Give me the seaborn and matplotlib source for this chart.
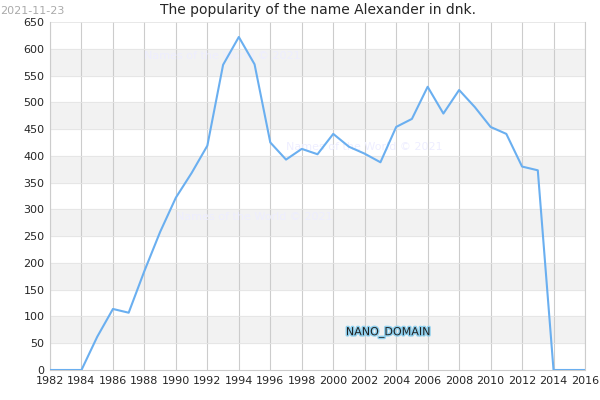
import numpy as np
import pandas as pd
import matplotlib
matplotlib.use('Agg')
import matplotlib.pyplot as plt
import matplotlib.patheffects as pe
import seaborn as sns

years = list(range(1982, 2017))
counts = [0, 0, 0, 62, 114, 107, 185, 258, 322, 368, 419, 570, 622, 571, 425, 393,
          413, 403, 441, 417, 404, 388, 454, 469, 529, 479, 523, 491, 454, 441,
          380, 373, 0, 0, 0]
df = pd.DataFrame({'year': years, 'count': counts})

sns.set_style('white')
fig = plt.figure(figsize=(6, 4), dpi=100)
ax = fig.add_axes([50/600, 30/400, 535/600, 348/400])

for lo in range(50, 650, 100):
    ax.axhspan(lo, lo + 50, color='#f2f2f2', zorder=0)
for x in range(1982, 2017, 2):
    ax.axvline(x, color='#cccccc', lw=0.8, zorder=1)
for y in range(0, 651, 50):
    ax.axhline(y, color='#e4e4e4', lw=0.6, zorder=1)

sns.lineplot(data=df, x='year', y='count', color='#6aaff0', lw=1.5, ax=ax, zorder=3)

ax.set_xlim(1982, 2016)
ax.set_ylim(0, 650)
ax.set_xticks(range(1982, 2017, 2))
ax.set_yticks(range(0, 651, 50))
ax.tick_params(labelsize=8, length=0, pad=4)
ax.set_xlabel('')
ax.set_ylabel('')
for s in ax.spines.values():
    s.set_color('#cccccc')
    s.set_linewidth(0.8)
ax.spines['top'].set_visible(False)

ax.set_title('The popularity of the name Alexander in dnk.', fontsize=10, pad=6)
fig.text(0.0, 0.985, '2021-11-23', fontsize=8, color='#aaaaaa', va='top')
for tx, ty, t in [(1988, 580, 'Names of the World © 2021'),
                  (1997, 410, 'Names of the World © 2021'),
                  (1990, 280, 'Names of the World © 2021')]:
    ax.text(tx, ty, t, fontsize=8, color='#eeeeff', zorder=2)
ax.text(2003.5, 65, 'NANO_DOMAIN', fontsize=8, color='#222222', ha='center', zorder=4,
        path_effects=[pe.withStroke(linewidth=2, foreground='#8fd0ee')])

fig.savefig('out.png')
